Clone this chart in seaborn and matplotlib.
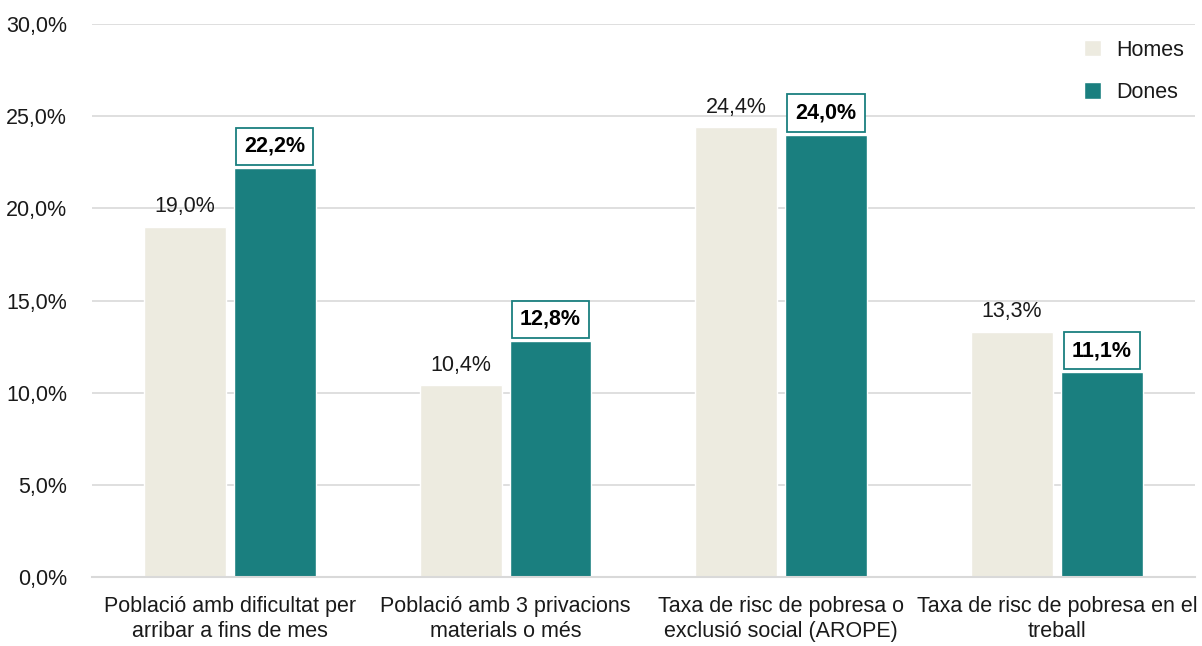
import matplotlib
matplotlib.use("Agg")
import matplotlib.pyplot as plt
import seaborn as sns
import pandas as pd
from matplotlib.ticker import FuncFormatter

categories = [
    "Població amb dificultat per\narribar a fins de mes",
    "Població amb 3 privacions\nmaterials o més",
    "Taxa de risc de pobresa o\nexclusió social (AROPE)",
    "Taxa de risc de pobresa en el\ntreball",
]
homes = [19.0, 10.4, 24.4, 13.3]
dones = [22.2, 12.8, 24.0, 11.1]
series = ["Homes", "Dones"]
colors = ["#EDEBE0", "#1A7F7F"]

sns.set_theme(style="white")
plt.rcParams["font.family"] = ["Liberation Sans", "DejaVu Sans"]

df = pd.DataFrame({
    "cat": categories * 2,
    "sexe": [series[0]] * 4 + [series[1]] * 4,
    "val": homes + dones,
})

fig = plt.figure(figsize=(12.02, 6.46), dpi=100)
ax = fig.add_axes([0.0765, 0.1068, 0.9175, 0.856])

sns.barplot(data=df, x="cat", y="val", hue="sexe", palette=colors,
            width=0.652, gap=0.089, ax=ax, saturation=1, legend=True)

ax.set_xlim(-0.5, 3.5)
ax.set_ylim(0, 30)
ax.set_yticks([0, 5, 10, 15, 20, 25, 30])
ax.yaxis.set_major_formatter(FuncFormatter(lambda v, p: f"{v:.1f}%".replace(".", ",")))
ax.grid(axis="y", color="#D9D9D9", linewidth=1.2)
ax.set_axisbelow(True)
for s in ["top", "right", "left"]:
    ax.spines[s].set_visible(False)
ax.spines["bottom"].set_color("#D9D9D9")
ax.spines["bottom"].set_linewidth(1.5)
ax.tick_params(axis="y", length=0, pad=18, labelsize=15.5, labelcolor="#1a1a1a")
ax.tick_params(axis="x", length=0, pad=14, labelsize=15.5, labelcolor="#1a1a1a")
for lbl in ax.get_xticklabels():
    lbl.set_linespacing(1.25)
ax.set_xlabel("")
ax.set_ylabel("")

fmt = lambda v: f"{v:.1f}%".replace(".", ",")
for cont, name in zip(ax.containers, series):
    for bar, v in zip(cont, homes if name == "Homes" else dones):
        x = bar.get_x() + bar.get_width() / 2
        if name == "Homes":
            ax.annotate(fmt(v), (x, bar.get_height()), xytext=(0, 7),
                        textcoords="offset points", ha="center", va="bottom",
                        fontsize=15.5, color="#1a1a1a")
        else:
            ax.annotate(fmt(v), (x, bar.get_height()), xytext=(0, 8),
                        textcoords="offset points", ha="center", va="bottom",
                        fontsize=15.5, fontweight="bold", color="black",
                        bbox=dict(boxstyle="square,pad=0.38", fc="white",
                                  ec="#1A7F7F", lw=1.3))

leg = ax.legend(loc="upper right", bbox_to_anchor=(1.008, 1.007), frameon=False,
                fontsize=15.5, handlelength=0.8, handleheight=0.8,
                labelspacing=1.0, handletextpad=0.7)
for t in leg.get_texts():
    t.set_color("#1a1a1a")

fig.savefig("out.png", dpi=100)
